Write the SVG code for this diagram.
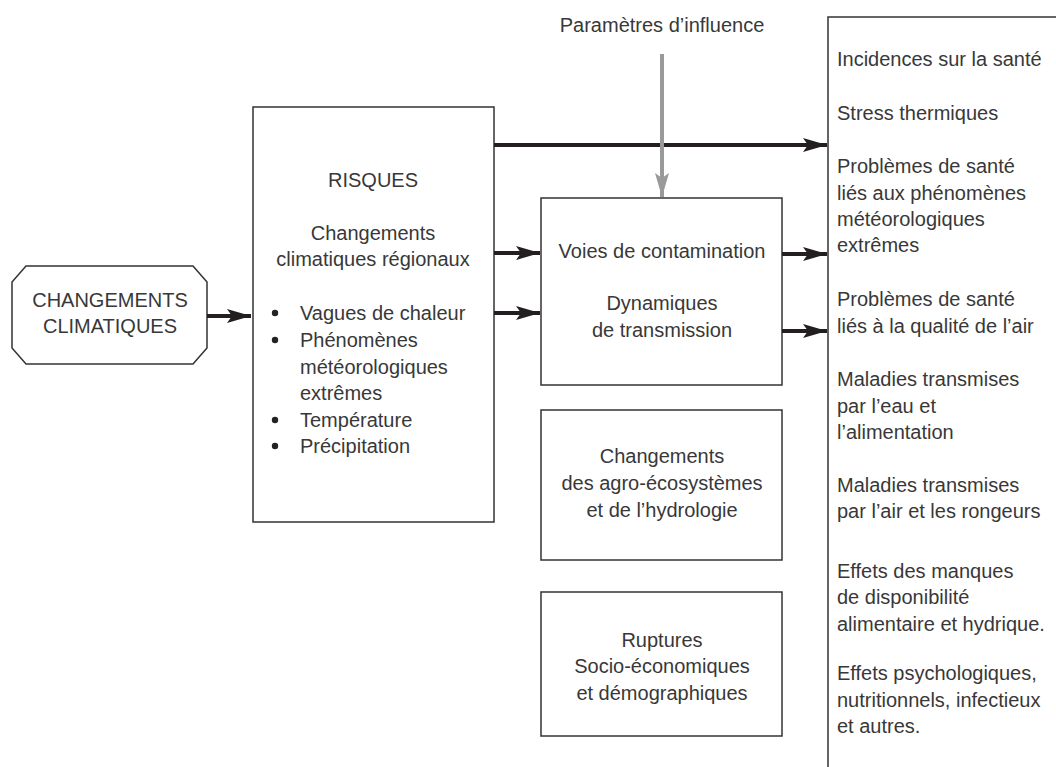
<svg xmlns="http://www.w3.org/2000/svg" width="1056" height="767" viewBox="0 0 1056 767">
<style>
.box{fill:#fff;stroke:#333;stroke-width:1.5}
text{font-family:"Liberation Sans",Arial,sans-serif;font-size:20px;fill:#383838}
.c{text-anchor:middle}
.arr{stroke:#231f20;stroke-width:4;fill:none}
.garr{stroke:#9a9a9a;stroke-width:4;fill:none}
</style>
<defs>
<marker id="ah" markerUnits="userSpaceOnUse" markerWidth="24" markerHeight="14" refX="24" refY="7" orient="auto">
<path d="M0,0 L24,7 L0,14 L5,7 Z" fill="#231f20"/>
</marker>
<marker id="gh" markerUnits="userSpaceOnUse" markerWidth="14" markerHeight="24" refX="7" refY="24" orient="0">
<path d="M0,0 L7,24 L14,0 L7,5 Z" fill="#9a9a9a"/>
</marker>
</defs>
<rect width="1056" height="767" fill="#fff"/>
<g id="effets">
<rect class="box" x="828" y="17" width="240" height="770"/>
<text x="837" y="66">Incidences sur la santé</text>
<text x="837" y="120">Stress thermiques</text>
<text x="837" y="173">Problèmes de santé</text>
<text x="837" y="200">liés aux phénomènes</text>
<text x="837" y="226">météorologiques</text>
<text x="837" y="252">extrêmes</text>
<text x="837" y="306">Problèmes de santé</text>
<text x="837" y="333">liés à la qualité de l’air</text>
<text x="837" y="386">Maladies transmises</text>
<text x="837" y="413">par l’eau et</text>
<text x="837" y="439">l’alimentation</text>
<text x="837" y="492">Maladies transmises</text>
<text x="837" y="518">par l’air et les rongeurs</text>
<text x="837" y="578">Effets des manques</text>
<text x="837" y="604">de disponibilité</text>
<text x="837" y="631">alimentaire et hydrique.</text>
<text x="837" y="680">Effets psychologiques,</text>
<text x="837" y="707">nutritionnels, infectieux</text>
<text x="837" y="733">et autres.</text>
</g>
<g id="changements">
<polygon class="box" points="26,266 193,266 207,282 207,348 193,364 26,364 12,348 12,282"/>
<text class="c" x="110" y="307">CHANGEMENTS</text>
<text class="c" x="110" y="333">CLIMATIQUES</text>
</g>
<g id="risques">
<rect class="box" x="253" y="107" width="241" height="415"/>
<text class="c" x="373" y="187">RISQUES</text>
<text class="c" x="373" y="240">Changements</text>
<text class="c" x="373" y="266">climatiques régionaux</text>
<circle cx="275" cy="313" r="3.2" fill="#222"/>
<circle cx="275" cy="340" r="3.2" fill="#222"/>
<circle cx="275" cy="420" r="3.2" fill="#222"/>
<circle cx="275" cy="446" r="3.2" fill="#222"/>
<text x="300" y="320">Vagues de chaleur</text>
<text x="300" y="347">Phénomènes</text>
<text x="300" y="374">météorologiques</text>
<text x="300" y="400">extrêmes</text>
<text x="300" y="427">Température</text>
<text x="300" y="453">Précipitation</text>
</g>
<g id="voies">
<rect class="box" x="541" y="198" width="241" height="187"/>
<text class="c" x="662" y="258">Voies de contamination</text>
<text class="c" x="662" y="310">Dynamiques</text>
<text class="c" x="662" y="337">de transmission</text>
</g>
<g id="agro">
<rect class="box" x="541" y="410" width="241" height="150"/>
<text class="c" x="662" y="463">Changements</text>
<text class="c" x="662" y="490">des agro-écosystèmes</text>
<text class="c" x="662" y="517">et de l’hydrologie</text>
</g>
<g id="ruptures">
<rect class="box" x="541" y="592" width="241" height="144"/>
<text class="c" x="662" y="647">Ruptures</text>
<text class="c" x="662" y="673">Socio-économiques</text>
<text class="c" x="662" y="700">et démographiques</text>
</g>
<g id="parametres">
<text class="c" x="662" y="32">Paramètres d’influence</text>
</g>
<g id="connectors">
<line class="arr" x1="207" y1="316" x2="251" y2="316" marker-end="url(#ah)"/>
<line class="arr" x1="494" y1="145" x2="827" y2="145" marker-end="url(#ah)"/>
<line class="arr" x1="494" y1="253" x2="540" y2="253" marker-end="url(#ah)"/>
<line class="arr" x1="494" y1="313" x2="540" y2="313" marker-end="url(#ah)"/>
<line class="arr" x1="782" y1="254" x2="827" y2="254" marker-end="url(#ah)"/>
<line class="arr" x1="782" y1="331" x2="827" y2="331" marker-end="url(#ah)"/>
<line class="garr" x1="662" y1="54" x2="662" y2="197" marker-end="url(#gh)"/>
</g>
</svg>
